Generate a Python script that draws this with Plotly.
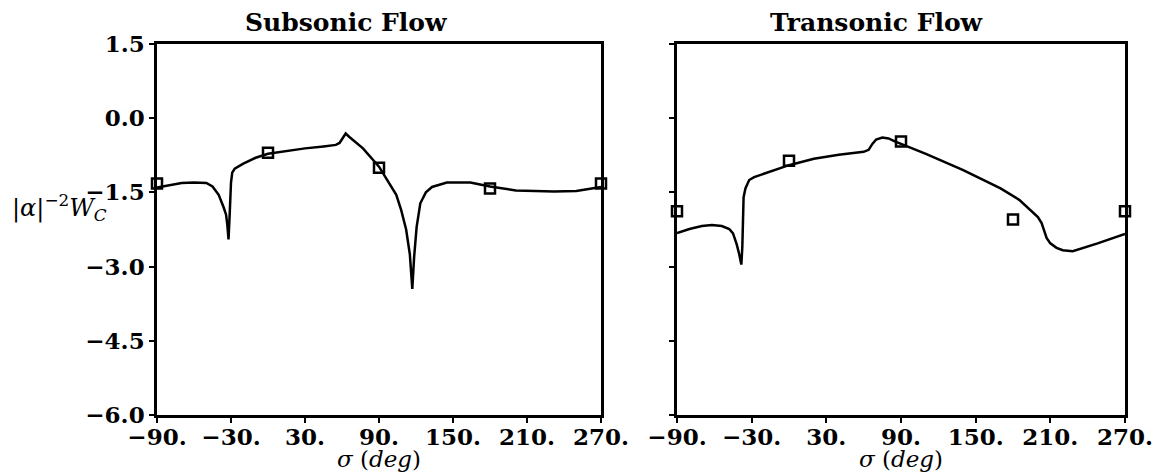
import plotly.graph_objects as go

# ---- data ----
sub_sigma = [-90, -80, -70, -60, -50, -45, -40, -36, -34, -33, -32, -31, -30, -29, -27, -20, -10, 0,
             15, 30, 45, 55, 58, 60, 62, 63, 66, 77, 90, 99, 104, 108, 112, 115, 117, 118.5, 120.5,
             123.5, 128, 133, 145, 164, 180, 201, 232, 250, 260, 270]
sub_w = [-1.40, -1.35, -1.31, -1.30, -1.31, -1.38, -1.55, -1.80, -1.95, -2.15, -2.45, -1.90, -1.30,
         -1.10, -1.02, -0.92, -0.80, -0.72, -0.66, -0.61, -0.57, -0.54, -0.50, -0.42, -0.34, -0.31,
         -0.38, -0.61, -0.98, -1.33, -1.55, -1.86, -2.25, -2.75, -3.45, -2.80, -2.20, -1.72, -1.50,
         -1.39, -1.30, -1.30, -1.38, -1.46, -1.48, -1.47, -1.43, -1.39]
sub_mark_sigma = [-90, 0, 90, 180, 270]
sub_mark_w = [-1.32, -0.70, -1.00, -1.42, -1.32]

tra_sigma = [-90, -80, -70, -62, -54, -48, -45, -42, -40, -38.3, -37.5, -37, -36.5, -35, -32, -28,
             -15, 0, 20, 40, 60, 64, 67, 70, 75, 80, 85, 90, 110, 140, 170, 185, 196, 200, 203, 205,
             207, 210, 215, 220, 228, 248, 260, 270]
tra_w = [-2.32, -2.24, -2.18, -2.16, -2.18, -2.24, -2.33, -2.55, -2.75, -2.96, -2.60, -1.90, -1.60,
         -1.42, -1.25, -1.19, -1.08, -0.95, -0.82, -0.74, -0.68, -0.64, -0.52, -0.43, -0.39, -0.41,
         -0.47, -0.52, -0.72, -1.05, -1.42, -1.65, -1.92, -2.00, -2.12, -2.28, -2.42, -2.53, -2.62,
         -2.67, -2.69, -2.53, -2.43, -2.34]
tra_mark_sigma = [-90, 0, 90, 180, 270]
tra_mark_w = [-1.88, -0.86, -0.47, -2.05, -1.88]

x_tickvals = [-90, -30, 30, 90, 150, 210, 270]
x_ticktext = ["\u221290.", "\u221230.", "30.", "90.", "150.", "210.", "270."]
y_tickvals = [-6.0, -4.5, -3.0, -1.5, 0.0, 1.5]
y_ticktext = ["\u22126.0", "\u22124.5", "\u22123.0", "\u22121.5", "0.0", "1.5"]

titles = ["Subsonic Flow", "Transonic Flow"]

# ---- figure ----
# The page body has an 8px margin, so the figure is 8px smaller and all
# screen positions are shifted by 8px.
OFF = 8
W, H = 1160 - OFF, 473 - OFF

def px(sx):
    return (sx - OFF) / W

def py(sy):
    return 1 - (sy - OFF) / H

fig = go.Figure()

line_style = dict(color="black", width=2.5)
marker_style = dict(symbol="square-open", size=10, color="black", line=dict(color="black", width=2.5))

fig.add_trace(go.Scatter(x=sub_sigma, y=sub_w, mode="lines", line=line_style,
                         xaxis="x", yaxis="y", showlegend=False))
fig.add_trace(go.Scatter(x=sub_mark_sigma, y=sub_mark_w, mode="markers", marker=marker_style,
                         xaxis="x", yaxis="y", showlegend=False, cliponaxis=False))
fig.add_trace(go.Scatter(x=tra_sigma, y=tra_w, mode="lines", line=line_style,
                         xaxis="x2", yaxis="y2", showlegend=False))
fig.add_trace(go.Scatter(x=tra_mark_sigma, y=tra_mark_w, mode="markers", marker=marker_style,
                         xaxis="x2", yaxis="y2", showlegend=False, cliponaxis=False))

tickfont = dict(family="DejaVu Serif", size=23, color="black", weight="bold")

def xax(domain, anchor):
    return dict(domain=domain, anchor=anchor, range=[-90, 270], tickvals=x_tickvals,
                ticktext=x_ticktext, ticks="outside", ticklen=5, tickwidth=2, tickcolor="black",
                showline=True, linecolor="black", linewidth=2.5, mirror=True, showgrid=False,
                zeroline=False, tickfont=tickfont, fixedrange=True, automargin=False,
                ticklabelstandoff=-5)

def yax(domain, anchor, labels):
    return dict(domain=domain, anchor=anchor, range=[-6.0, 1.5], tickvals=y_tickvals,
                ticktext=y_ticktext, ticks="outside", ticklen=5, tickwidth=2, tickcolor="black",
                showline=True, linecolor="black", linewidth=2.5, mirror=True, showgrid=False,
                zeroline=False, tickfont=tickfont, showticklabels=labels, fixedrange=True,
                automargin=False)

ydom = [py(415), py(44)]
fig.update_layout(
    width=W, height=H,
    margin=dict(l=0, r=0, t=0, b=0, autoexpand=False),
    paper_bgcolor="white", plot_bgcolor="white",
    xaxis=xax([px(157), px(601)], "y"),
    yaxis=yax(ydom, "x", True),
    xaxis2=xax([px(677), px(1125)], "y2"),
    yaxis2=yax(ydom, "x2", False),
)

annos = []
for txt, cx in zip(titles, [346, 877]):
    annos.append(dict(text="<b>" + txt + "</b>", x=px(cx), y=py(22), xref="paper", yref="paper",
                      xanchor="center", yanchor="middle", showarrow=False,
                      font=dict(family="DejaVu Serif", size=25, color="black")))
for cx in [379, 901]:
    annos.append(dict(text="<i>\u03c3</i> (<i>deg</i>)", x=px(cx), y=py(459),
                      xref="paper", yref="paper", xanchor="center", yanchor="middle",
                      showarrow=False, font=dict(family="DejaVu Serif", size=23, color="black")))
annos.append(dict(text="|<i>\u03b1</i>|<sup>\u22122</sup><i>W</i><sub><i>C</i></sub>",
                  x=px(10), y=py(207), xref="paper", yref="paper",
                  xanchor="left", yanchor="middle", showarrow=False,
                  font=dict(family="DejaVu Serif", size=24, color="black")))
fig.update_layout(annotations=annos)

fig.write_html("out.html")
